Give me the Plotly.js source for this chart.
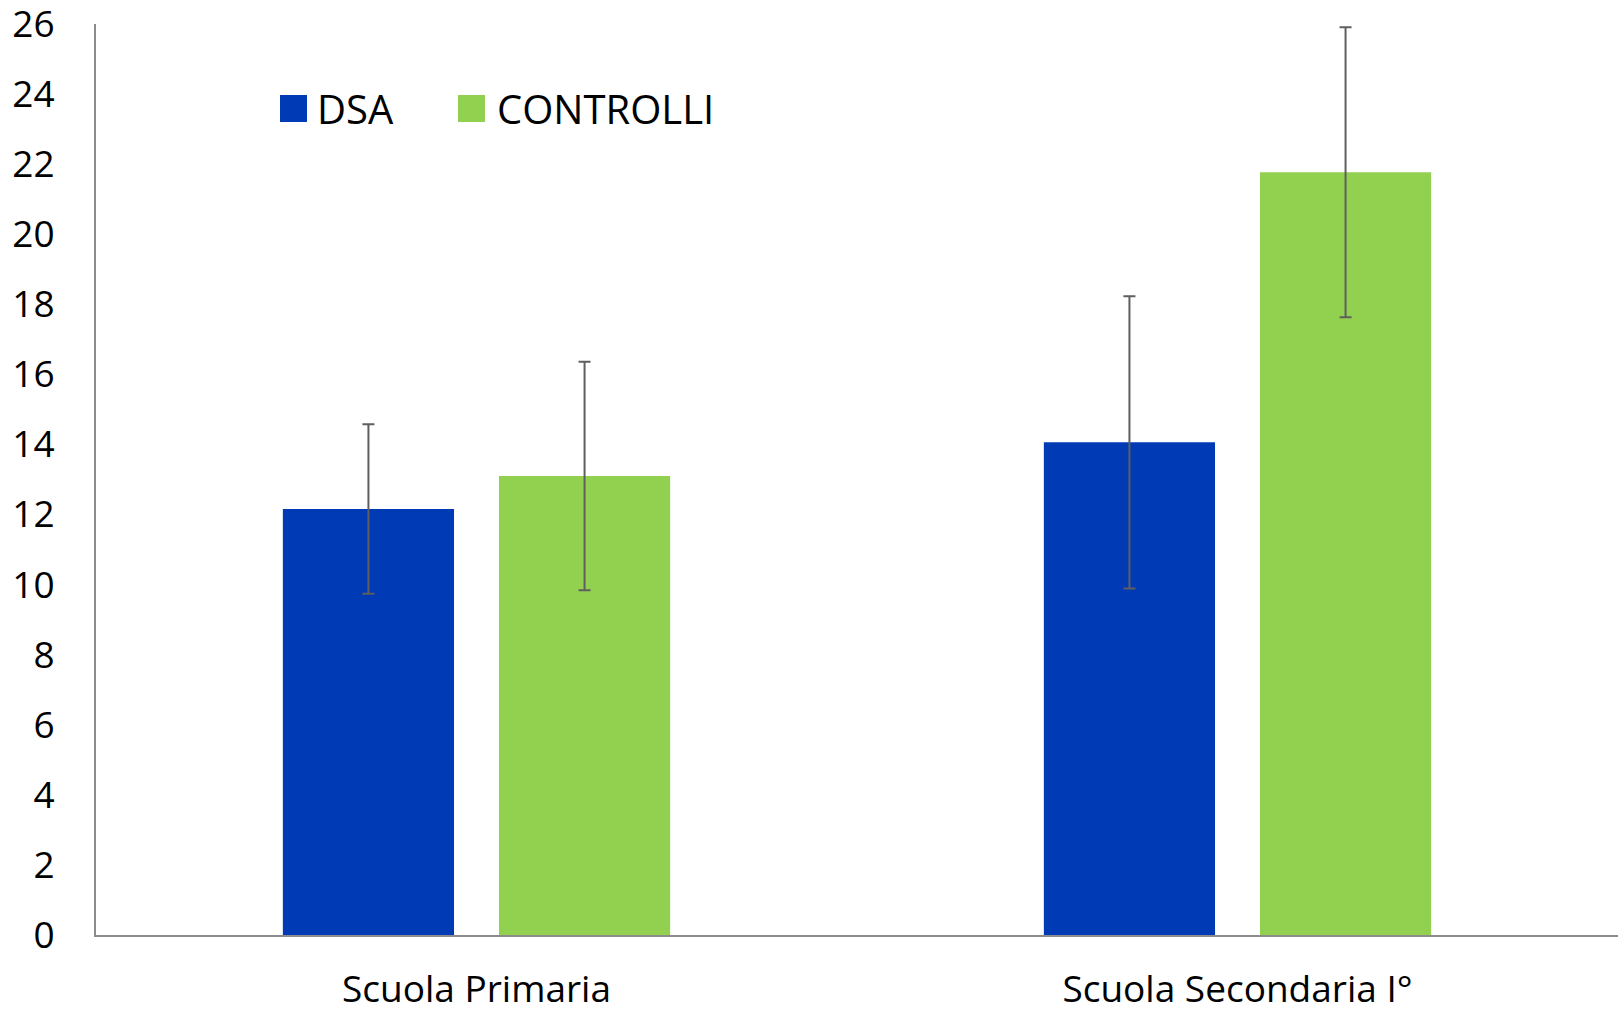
<!DOCTYPE html>
<html>
<head>
<meta charset="utf-8">
<script src="https://cdn.plot.ly/plotly-3.0.1.min.js"></script>
<style>
  html, body { margin: 0; padding: 0; background: #ffffff; }
  #chart { width: 1624px; height: 1010px; }
</style>
</head>
<body>
<div id="chart"></div>
<script>
// ---- data ----
const categories = ["Scuola Primaria", "Scuola Secondaria I°"];
const seriesNames = ["DSA", "CONTROLLI"];
const dsaValues = [12.16, 14.06];
const dsaErrors = [2.42, 4.17];
const controlliValues = [13.10, 21.77];
const controlliErrors = [3.26, 4.14];
const yTickValues = [0, 2, 4, 6, 8, 10, 12, 14, 16, 18, 20, 22, 24, 26];

// ---- styles ----
const colors = ["#003BB5", "#92D050"];
const FONT = "Open Sans, sans-serif";
const errStyle = { type: "data", visible: true, color: "#5f5f5f", thickness: 2, width: 6 };

const traces = [
  {
    type: "bar", name: seriesNames[0], x: categories, y: dsaValues,
    marker: { color: colors[0] },
    error_y: Object.assign({ array: dsaErrors }, errStyle),
    showlegend: false, hoverinfo: "x+y"
  },
  {
    type: "bar", name: seriesNames[1], x: categories, y: controlliValues,
    marker: { color: colors[1] },
    error_y: Object.assign({ array: controlliErrors }, errStyle),
    showlegend: false, hoverinfo: "x+y"
  }
];

// legend drawn with shapes + annotations (large square keys)
const W = 1624 - 96 - 6, H = 1010 - 24 - 75;
function px2x(px) { return (px - 96) / W; }
function px2y(py) { return (935 - py) / H; }
const legendKeys = [
  { x0: 280, textX: 315 },
  { x0: 458, textX: 495 }
];
const shapes = legendKeys.map((k, i) => ({
  type: "rect", xref: "paper", yref: "paper",
  x0: px2x(k.x0), x1: px2x(k.x0 + 27),
  y0: px2y(122), y1: px2y(95),
  fillcolor: colors[i], line: { width: 0 }
}));
const annotations = legendKeys.map((k, i) => ({
  xref: "paper", yref: "paper",
  x: px2x(k.textX), y: px2y(108.5),
  xanchor: "left", yanchor: "middle",
  text: seriesNames[i], showarrow: false,
  font: { family: FONT, size: 40, color: "#000000" }
}));

const layout = {
  width: 1624, height: 1010,
  margin: { l: 96, r: 6, t: 24, b: 75, pad: 0 },
  paper_bgcolor: "#ffffff", plot_bgcolor: "#ffffff",
  barmode: "group", bargap: 0.432, bargroupgap: 0.208,
  showlegend: false,
  xaxis: {
    type: "category", range: [-0.5, 1.5],
    showline: true, linecolor: "#8c8c8c", linewidth: 2,
    showgrid: false, zeroline: false,
    ticks: "", ticklabelstandoff: 21,
    tickfont: { family: FONT, size: 37, color: "#000000" }
  },
  yaxis: {
    range: [0, 26.0001], tickmode: "array", tickvals: yTickValues,
    ticktext: yTickValues.map(String),
    showline: true, linecolor: "#8c8c8c", linewidth: 2,
    showgrid: false, zeroline: false,
    ticks: "", ticklabelstandoff: 32, ticklabeloverflow: "allow",
    tickfont: { family: FONT, size: 37, color: "#000000" }
  },
  shapes: shapes,
  annotations: annotations
};

Plotly.newPlot("chart", traces, layout, { displayModeBar: false, staticPlot: true });
</script>
</body>
</html>
